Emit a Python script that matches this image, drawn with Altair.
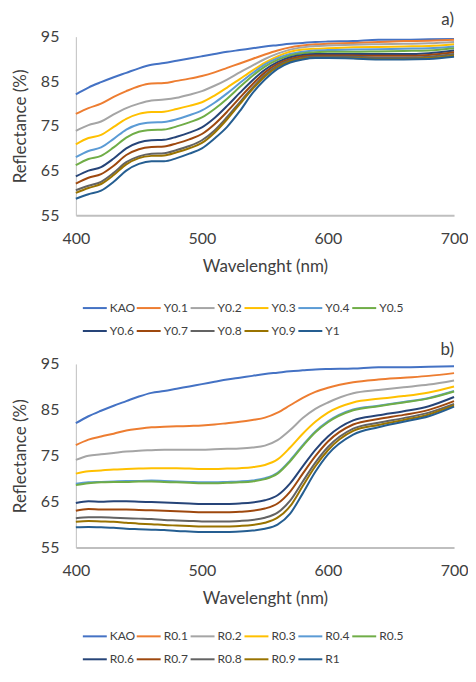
import altair as alt
import pandas as pd

wavelength = [400, 410, 420, 430, 440, 450, 460, 470, 480, 490, 500, 510, 520, 530,
              540, 550, 560, 570, 580, 590, 600, 620, 640, 660, 680, 700]

kao = [82.1, 83.6, 84.8, 85.9, 86.9, 87.9, 88.7, 89.1, 89.6, 90.1, 90.6, 91.1, 91.6, 92.0,
       92.4, 92.8, 93.1, 93.4, 93.6, 93.8, 93.9, 94.0, 94.3, 94.3, 94.4, 94.5]

y01 = [77.7, 79.0, 80.0, 81.5, 82.8, 83.9, 84.5, 84.6, 85.1, 85.6, 86.2, 87.0, 88.0, 89.0, 90.0, 91.0, 91.9, 92.6, 93.0, 93.3, 93.4, 93.6, 93.8, 94.0, 94.1, 94.3]
y02 = [73.9, 75.2, 76.0, 77.6, 79.0, 80.0, 80.7, 80.9, 81.3, 82.0, 82.8, 84.0, 85.4, 87.0, 88.5, 90.0, 91.2, 92.1, 92.6, 92.9, 93.0, 93.2, 93.3, 93.4, 93.5, 93.8]
y03 = [70.9, 72.3, 73.0, 74.8, 76.6, 77.7, 78.1, 78.2, 78.8, 79.5, 80.3, 81.8, 83.6, 85.5, 87.4, 89.2, 90.6, 91.6, 92.1, 92.3, 92.4, 92.6, 92.7, 92.8, 92.9, 93.3]
y04 = [68.0, 69.4, 70.2, 72.1, 74.2, 75.4, 75.8, 75.9, 76.5, 77.4, 78.5, 80.2, 82.3, 84.6, 86.8, 88.8, 90.2, 91.1, 91.6, 91.9, 92.0, 92.1, 92.2, 92.3, 92.4, 92.8]
y05 = [66.2, 67.6, 68.3, 70.2, 72.4, 73.7, 74.1, 74.2, 74.9, 75.8, 76.9, 78.8, 81.1, 83.7, 86.2, 88.3, 89.8, 90.8, 91.3, 91.5, 91.6, 91.6, 91.7, 91.8, 91.9, 92.4]
y06 = [63.7, 65.0, 65.8, 67.7, 70.0, 71.3, 71.8, 71.9, 72.6, 73.5, 74.7, 76.8, 79.5, 82.4, 85.2, 87.6, 89.3, 90.4, 90.9, 91.1, 91.1, 91.1, 91.1, 91.1, 91.3, 91.9]
y07 = [62.1, 63.4, 64.2, 66.1, 68.5, 69.8, 70.3, 70.4, 71.1, 72.0, 73.2, 75.4, 78.2, 81.3, 84.3, 87.0, 88.9, 90.0, 90.6, 90.8, 90.8, 90.8, 90.7, 90.7, 90.9, 91.5]
y08 = [60.6, 61.6, 62.5, 64.5, 66.9, 68.2, 68.8, 68.9, 69.6, 70.5, 71.8, 74.0, 77.0, 80.3, 83.5, 86.4, 88.5, 89.7, 90.3, 90.5, 90.5, 90.5, 90.3, 90.3, 90.5, 91.1]
y09 = [60.0, 61.1, 62.0, 64.0, 66.4, 67.8, 68.3, 68.4, 69.1, 70.0, 71.2, 73.5, 76.5, 79.9, 83.2, 86.1, 88.2, 89.5, 90.1, 90.3, 90.3, 90.2, 90.0, 90.0, 90.2, 90.8]
y10 = [58.7, 59.7, 60.5, 62.5, 65.0, 66.5, 67.1, 67.1, 67.8, 68.8, 70.0, 72.2, 74.8, 78.3, 82.3, 85.4, 87.8, 89.2, 89.9, 90.2, 90.2, 90.1, 89.9, 89.9, 90.0, 90.5]

r01 = [77.3, 78.5, 79.2, 79.8, 80.5, 80.9, 81.2, 81.3, 81.4, 81.5, 81.6, 81.8, 82.1, 82.4, 82.8, 83.3, 84.4, 86.0, 87.6, 88.9, 89.8, 91.0, 91.6, 92.0, 92.4, 93.0]
r02 = [74.1, 75.0, 75.3, 75.6, 75.9, 76.1, 76.2, 76.3, 76.3, 76.3, 76.3, 76.4, 76.5, 76.6, 76.8, 77.2, 78.4, 80.6, 83.2, 85.2, 86.6, 88.6, 89.3, 89.9, 90.5, 91.4]
r03 = [71.1, 71.6, 71.8, 72.0, 72.1, 72.2, 72.3, 72.3, 72.3, 72.2, 72.1, 72.1, 72.2, 72.3, 72.5, 73.0, 74.2, 76.8, 79.8, 82.4, 84.4, 86.6, 87.4, 88.0, 88.8, 90.1]
r04 = [68.9, 69.2, 69.3, 69.4, 69.5, 69.5, 69.6, 69.5, 69.4, 69.3, 69.2, 69.2, 69.3, 69.4, 69.6, 70.1, 71.3, 74.0, 77.3, 80.3, 82.5, 85.1, 85.9, 86.7, 87.6, 89.1]
r05 = [68.6, 69.0, 69.2, 69.3, 69.3, 69.4, 69.4, 69.3, 69.2, 69.1, 69.0, 69.0, 69.1, 69.2, 69.4, 69.9, 71.1, 73.8, 77.1, 80.1, 82.3, 84.9, 85.8, 86.6, 87.5, 89.0]
r06 = [64.7, 65.1, 65.0, 65.1, 65.1, 65.0, 64.9, 64.8, 64.7, 64.6, 64.5, 64.5, 64.5, 64.6, 64.8, 65.3, 66.4, 69.0, 72.7, 76.3, 79.2, 82.7, 83.8, 84.7, 85.8, 87.8]
r07 = [63.0, 63.4, 63.3, 63.3, 63.3, 63.2, 63.1, 63.0, 62.9, 62.8, 62.7, 62.7, 62.7, 62.8, 63.0, 63.5, 64.6, 67.2, 71.1, 74.9, 78.1, 81.8, 83.0, 83.9, 85.0, 86.9]
r08 = [61.4, 61.6, 61.6, 61.5, 61.4, 61.3, 61.2, 61.0, 60.9, 60.8, 60.7, 60.7, 60.7, 60.8, 61.0, 61.5, 62.6, 65.2, 69.4, 73.5, 76.9, 80.9, 82.2, 83.2, 84.4, 86.3]
r09 = [60.6, 60.8, 60.7, 60.6, 60.4, 60.2, 60.1, 59.9, 59.8, 59.7, 59.6, 59.6, 59.6, 59.7, 59.9, 60.4, 61.5, 64.0, 68.4, 72.7, 76.2, 80.4, 81.7, 82.8, 84.0, 86.0]
r10 = [59.4, 59.5, 59.4, 59.3, 59.1, 59.0, 58.9, 58.8, 58.6, 58.5, 58.4, 58.4, 58.4, 58.5, 58.7, 59.1, 60.0, 62.4, 66.8, 71.5, 75.3, 79.6, 81.2, 82.4, 83.6, 85.7]

names_a = ["KAO", "Y0.1", "Y0.2", "Y0.3", "Y0.4", "Y0.5", "Y0.6", "Y0.7", "Y0.8", "Y0.9", "Y1"]
names_b = ["KAO", "R0.1", "R0.2", "R0.3", "R0.4", "R0.5", "R0.6", "R0.7", "R0.8", "R0.9", "R1"]
series_a = [kao, y01, y02, y03, y04, y05, y06, y07, y08, y09, y10]
series_b = [kao, r01, r02, r03, r04, r05, r06, r07, r08, r09, r10]
panel_labels = ["a)", "b)"]
colors = ["#4472C4", "#ED7D31", "#A5A5A5", "#FFC000", "#5B9BD5", "#70AD47",
          "#264478", "#9E480E", "#636363", "#997300", "#255E91"]

x_ticks = [400, 500, 600, 700]
y_ticks = [55, 65, 75, 85, 95]
FONT = "Lato"
TXT = "#404040"
W = 379


def long_df(names, series):
    rows = []
    for n, vals in zip(names, series):
        for w, v in zip(wavelength, vals):
            rows.append({"wl": w, "r": v, "s": n})
    return pd.DataFrame(rows)


def panel(names, series, label, h, leg_y, label_y):
    df = long_df(names, series)
    lines = alt.Chart(df).mark_line(strokeWidth=2, interpolate="monotone").encode(
        x=alt.X("wl:Q",
                scale=alt.Scale(domain=[400, 700], nice=False, zero=False),
                axis=alt.Axis(values=x_ticks, title="Wavelenght (nm)", ticks=False, grid=False,
                              labelFlush=False, labelPadding=15, titlePadding=12,
                              domainColor="#BFBFBF", domainWidth=2)),
        y=alt.Y("r:Q",
                scale=alt.Scale(domain=[55, 95], nice=False, zero=False),
                axis=alt.Axis(values=y_ticks, title="Reflectance (%)", ticks=False, grid=False,
                              labelFlush=False, labelPadding=17, titlePadding=11,
                              domainColor="#BFBFBF", domainWidth=1)),
        color=alt.Color("s:N",
                        scale=alt.Scale(domain=names, range=colors),
                        legend=alt.Legend(title=None, orient="none", legendX=6, legendY=leg_y,
                                          direction="horizontal", columns=6, symbolType="stroke",
                                          symbolSize=576, symbolStrokeWidth=2, labelFontSize=12,
                                          labelFont=FONT, labelColor=TXT, labelOffset=2,
                                          columnPadding=-4, rowPadding=4, gridAlign="all",
                                          padding=0)),
    )
    tag = alt.Chart(pd.DataFrame({"t": [label]})).mark_text(
        align="right", baseline="middle", fontSize=17, font=FONT, color=TXT
    ).encode(text="t:N", x=alt.value(W), y=alt.value(label_y))
    return alt.layer(lines, tag).properties(width=W, height=h)


chart_a = panel(names_a, series_a, panel_labels[0], 179, 259, -17)
chart_b = panel(names_b, series_b, panel_labels[1], 184, 260, -14)

chart = alt.vconcat(chart_a, chart_b, spacing=4).resolve_scale(color="independent").resolve_legend(
    color="independent"
).properties(
    padding={"left": 3, "top": 2, "right": 0, "bottom": 0}
).configure_view(stroke=None).configure_axis(
    labelFont=FONT, labelFontSize=16, labelColor=TXT,
    titleFont=FONT, titleFontSize=17, titleFontWeight="normal", titleColor=TXT
)

chart.save("out.html", embed_options={"renderer": "svg", "actions": False})
